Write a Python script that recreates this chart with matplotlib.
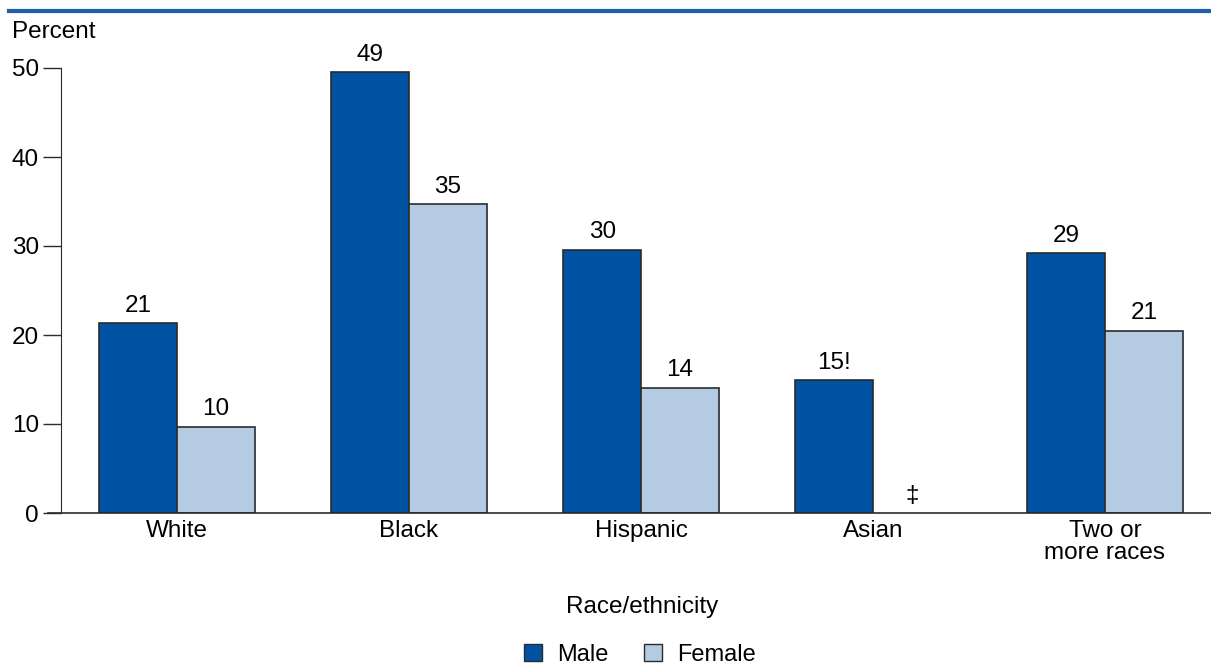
import matplotlib
matplotlib.use("Agg")
import matplotlib.pyplot as plt
import numpy as np
from matplotlib.patches import Patch

plt.rcParams['font.family'] = ['Liberation Sans', 'DejaVu Sans']

categories = ["White", "Black", "Hispanic", "Asian", "Two or\nmore races"]
male = [21.3, 49.5, 29.6, 14.9, 29.2]
female = [9.7, 34.7, 14.1, np.nan, 20.5]
male_labels = ["21", "49", "30", "15!", "29"]
female_labels = ["10", "35", "14", "‡", "21"]
yticks = [0, 10, 20, 30, 40, 50]

male_color = "#0052A3"
female_color = "#B5CBE3"
edge = "#2b2b2b"
FS = 17.5

W, H = 1211, 666
fig = plt.figure(figsize=(W / 100, H / 100), dpi=100)
ax = fig.add_axes([61 / W, 1 - 513 / H, (W - 61) / W, (513 - 68) / H])

x = np.arange(len(categories))
bw = 0.335
ax.bar(x - bw / 2, male, bw, color=male_color, edgecolor=edge, linewidth=1.2, zorder=2)
ax.bar(x + bw / 2, female, bw, color=female_color, edgecolor=edge, linewidth=1.2, zorder=2)

for i in range(len(categories)):
    ax.text(x[i] - bw / 2, male[i] + 0.7, male_labels[i], ha="center", va="bottom", fontsize=FS)
    fy = 0 if np.isnan(female[i]) else female[i]
    ax.text(x[i] + bw / 2, fy + 0.7, female_labels[i], ha="center", va="bottom", fontsize=FS)

ax.set_xlim(-0.5, (W - 61) / 232 - 0.5)
ax.set_ylim(0, 50)
ax.set_yticks(yticks)
ax.set_xticks(x)
ax.set_xticklabels(categories, fontsize=FS, linespacing=1.0)
ax.tick_params(axis="y", length=13, width=1, labelsize=FS, pad=3, color=edge)
ax.tick_params(axis="x", length=0, pad=5)
for s in ["top", "right", "bottom"]:
    ax.spines[s].set_visible(False)
ax.spines["left"].set_color(edge)
# baseline extending left of the y-axis
ax.plot([-0.5 - 13 / 232, ax.get_xlim()[1]], [0, 0], color=edge, lw=1.2, clip_on=False, zorder=3)

fig.text(12 / W, 1 - 32 / H, "Percent", fontsize=FS, ha="left", va="center")
fig.text(642 / W, 1 - 607 / H, "Race/ethnicity", fontsize=FS, ha="center", va="center")

# top rule
fig.add_artist(plt.Line2D([9 / W, 1], [1 - 11 / H, 1 - 11 / H], color="#1F5EA8", lw=3))

handles = [Patch(facecolor=male_color, edgecolor=edge, label="Male"),
           Patch(facecolor=female_color, edgecolor=edge, label="Female")]
fig.legend(handles=handles, loc="center", bbox_to_anchor=(640 / W, 1 - 655 / H), ncol=2,
           frameon=False, fontsize=17, handlelength=0.75, handleheight=0.75,
           columnspacing=1.5, handletextpad=0.65)

fig.savefig("out.png", dpi=100)
